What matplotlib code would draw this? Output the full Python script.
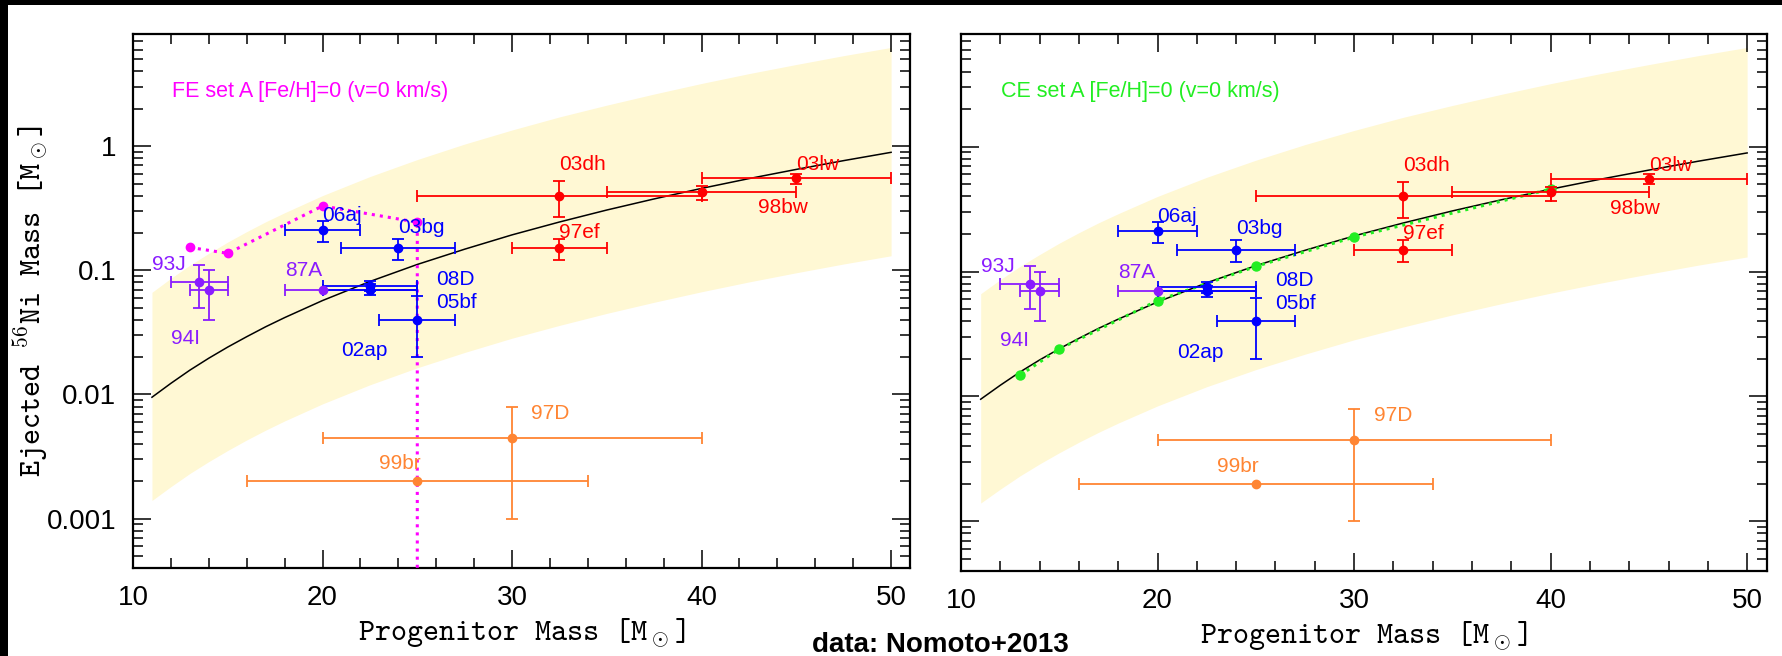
import matplotlib
matplotlib.use('Agg')
import matplotlib.pyplot as plt
from matplotlib.patches import Rectangle
from matplotlib.ticker import MultipleLocator, LogLocator, FuncFormatter, NullFormatter

# black fit line and the yellow band around it
fit_mass = [11, 12, 13, 14, 15, 16, 17, 18, 20, 22.5, 25, 27.5, 30, 32.5, 35,
            37.5, 40, 42.5, 45, 47.5, 50]
fit_ni = [0.0095, 0.0123, 0.0157, 0.0196, 0.0241, 0.0292, 0.0351, 0.0416, 0.0571,
          0.0813, 0.1115, 0.148, 0.193, 0.245, 0.306, 0.376, 0.457, 0.548, 0.650,
          0.765, 0.892]
band_hi = [0.0665, 0.0863, 0.110, 0.137, 0.169, 0.205, 0.246, 0.291, 0.40,
           0.569, 0.78, 1.04, 1.35, 1.72, 2.14, 2.63, 3.20, 3.84, 4.55, 5.36, 6.24]
band_lo = [0.0014, 0.00181, 0.00231, 0.00288, 0.00354, 0.0043, 0.00516, 0.00612,
           0.0084, 0.01196, 0.0164, 0.0218, 0.0284, 0.036, 0.045, 0.0553, 0.0672,
           0.0806, 0.0956, 0.1125, 0.131]

# observed supernovae
sn_names = ['93J', '94I', '87A', '06aj', '03bg', '08D', '05bf', '02ap',
            '03dh', '98bw', '03lw', '97ef', '97D', '99br']
sn_group = ['normal', 'normal', 'normal', 'mid', 'mid', 'mid', 'mid', 'mid',
            'hyper', 'hyper', 'hyper', 'hyper', 'faint', 'faint']
sn_mass = [13.5, 14, 20, 20, 24, 22.5, 22.5, 25, 32.5, 40, 45, 32.5, 30, 25]
sn_mass_lo = [12, 13, 18, 18, 21, 20, 20, 23, 25, 35, 40, 30, 20, 16]
sn_mass_hi = [15, 15, 25, 22, 27, 25, 25, 27, 40, 45, 50, 35, 40, 34]
sn_ni = [0.08, 0.07, 0.07, 0.21, 0.15, 0.075, 0.07, 0.04, 0.40, 0.43, 0.55, 0.15, 0.0045, 0.002]
sn_ni_lo = [0.05, 0.04, None, 0.17, 0.12, 0.068, 0.063, 0.02, 0.27, 0.37, 0.50, 0.12, 0.001, None]
sn_ni_hi = [0.11, 0.10, None, 0.25, 0.18, 0.082, 0.077, 0.062, 0.52, 0.48, 0.60, 0.18, 0.008, None]

# models
fe_mass = [13, 15, 20, 25, 25]
fe_ni = [0.153, 0.137, 0.33, 0.244, 1e-5]
ce_mass = [13, 15, 20, 25, 30, 40]
ce_ni = [0.0148, 0.024, 0.0586, 0.11, 0.189, 0.458]

colors = {'normal': '#8a1cff', 'mid': '#0000ff', 'hyper': '#ff0000', 'faint': '#ff8533'}
# label anchors (left, baseline) in data coords
label_pos = {'93J': (11.0, 0.1), '94I': (12.0, 0.0253), '87A': (18.0, 0.0895),
             '06aj': (20.0, 0.25), '03bg': (24.0, 0.2), '08D': (26.0, 0.076),
             '05bf': (26.0, 0.05), '02ap': (21.0, 0.0203), '03dh': (32.5, 0.64),
             '98bw': (43.0, 0.288), '03lw': (45.0, 0.64), '97ef': (32.5, 0.181),
             '97D': (31.0, 0.0063), '99br': (23.0, 0.0025)}

plt.rcParams['mathtext.fontset'] = 'cm'
sans = 'Liberation Sans'
serif = 'cmtt10'

fig = plt.figure(figsize=(17.83, 6.56), dpi=100)
ax1 = fig.add_axes([0.0746, 0.1341, 0.4358, 0.814])
ax2 = fig.add_axes([0.539, 0.1296, 0.4519, 0.8186])


def setup(ax, ylabels):
    ax.set_yscale('log')
    ax.set_xlim(10, 51)
    ax.set_ylim(4e-4, 8)
    ax.xaxis.set_major_locator(MultipleLocator(10))
    ax.xaxis.set_minor_locator(MultipleLocator(2))
    ax.yaxis.set_major_locator(LogLocator(base=10))
    ax.yaxis.set_minor_locator(LogLocator(base=10, subs=range(2, 10)))
    ax.yaxis.set_minor_formatter(NullFormatter())
    ax.yaxis.set_major_formatter(FuncFormatter(lambda v, p: '%g' % v))
    ax.tick_params(which='both', direction='in', top=True, right=True, width=1.1,
                   labelsize=20, pad=12, labelleft=ylabels)
    ax.tick_params(which='major', length=13)
    ax.tick_params(which='minor', length=7)
    for lab in ax.get_xticklabels() + ax.get_yticklabels():
        lab.set_fontfamily(sans)
    for s in ax.spines.values():
        s.set_linewidth(1.6)

    ax.fill_between(fit_mass, band_lo, band_hi, color='#fff8d4', lw=0, zorder=1)
    ax.plot(fit_mass, fit_ni, color='k', lw=1.1, zorder=2)

    for i, name in enumerate(sn_names):
        c = colors[sn_group[i]]
        x, y = sn_mass[i], sn_ni[i]
        xerr = [[x - sn_mass_lo[i]], [sn_mass_hi[i] - x]]
        yerr = None
        if sn_ni_lo[i] is not None:
            yerr = [[y - sn_ni_lo[i]], [sn_ni_hi[i] - y]]
        ax.errorbar([x], [y], xerr=xerr, yerr=yerr, fmt='o', color=c, ms=6,
                    capsize=4, elinewidth=1.3, capthick=1.3, zorder=4)
        lx, ly = label_pos[name]
        ax.text(lx, ly, name, color=c, fontsize=15, family=sans,
                ha='left', va='baseline', zorder=5)

    ax.set_xlabel(r'Progenitor Mass [M$_\odot$]', fontsize=22, family=serif)
    ax.xaxis.set_label_coords(0.5, -0.09)


setup(ax1, True)
setup(ax2, False)

ax1.plot(fe_mass, fe_ni, ':', color='#ff00ff', lw=2.2, marker='o', ms=6, zorder=3)
ax1.text(12.05, 2.5, 'FE set A [Fe/H]=0 (v=0 km/s)', color='#ff00ff', fontsize=15.5,
         family=sans, ha='left', va='baseline')
ax2.plot(ce_mass, ce_ni, ':', color='#22ee22', lw=2.2, marker='o', ms=6.5, zorder=3)
ax2.text(12.05, 2.5, 'CE set A [Fe/H]=0 (v=0 km/s)', color='#22ee22', fontsize=15.5,
         family=sans, ha='left', va='baseline')

ax1.set_ylabel(r'Ejected $^{56}$Ni Mass [M$_\odot$]', fontsize=22, family=serif)
ax1.yaxis.set_label_coords(-0.107, 0.5)

fig.text(940 / 1783, 0.006, 'data: Nomoto+2013', fontsize=20, fontweight='bold',
         family=sans, ha='center', va='baseline')

# black frame on top and left edge
fig.add_artist(Rectangle((0, 1 - 5 / 656), 1, 5 / 656, transform=fig.transFigure,
                         color='k', lw=0))
fig.add_artist(Rectangle((0, 0), 8 / 1783, 1, transform=fig.transFigure,
                         color='k', lw=0))

fig.savefig('out.png', dpi=100)
